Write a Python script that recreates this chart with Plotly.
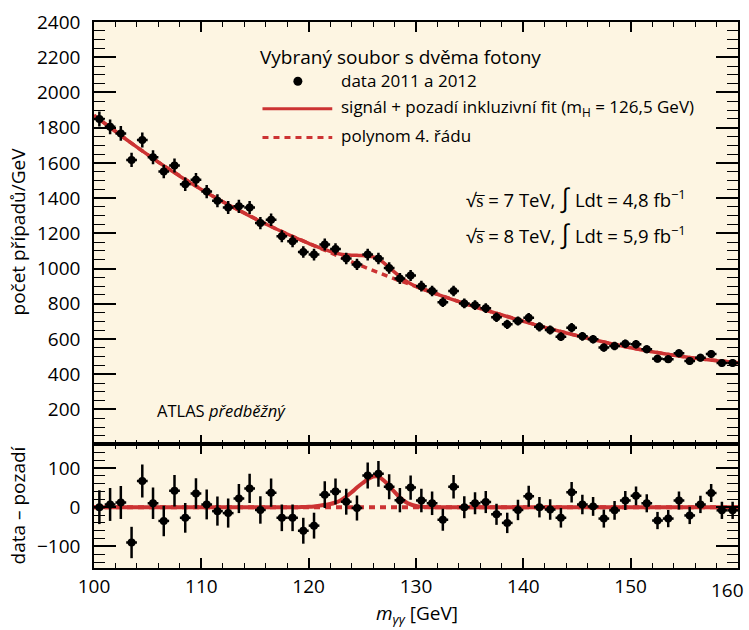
import plotly.graph_objects as go
from plotly.subplots import make_subplots

# ---------------- data ----------------
mass = [100.5, 101.5, 102.5, 103.5, 104.5, 105.5, 106.5, 107.5, 108.5, 109.5,
        110.5, 111.5, 112.5, 113.5, 114.5, 115.5, 116.5, 117.5, 118.5, 119.5,
        120.5, 121.5, 122.5, 123.5, 124.5, 125.5, 126.5, 127.5, 128.5, 129.5,
        130.5, 131.5, 132.5, 133.5, 134.5, 135.5, 136.5, 137.5, 138.5, 139.5,
        140.5, 141.5, 142.5, 143.5, 144.5, 145.5, 146.5, 147.5, 148.5, 149.5,
        150.5, 151.5, 152.5, 153.5, 154.5, 155.5, 156.5, 157.5, 158.5, 159.5]

counts = [1849, 1805, 1767, 1617, 1730, 1632, 1551, 1585, 1479, 1504,
          1437, 1385, 1347, 1353, 1347, 1258, 1277, 1183, 1155, 1094,
          1079, 1136, 1111, 1057, 1023, 1079, 1057, 1003, 943, 960,
          900, 872, 809, 872, 802, 792, 775, 724, 683, 702,
          720, 669, 651, 613, 664, 615, 598, 551, 560, 573,
          570, 542, 488, 485, 519, 475, 494, 515, 464, 464]

errors = [43, 42, 42, 40, 42, 40, 39, 40, 38, 39,
          38, 37, 37, 37, 37, 35, 36, 34, 34, 33,
          33, 34, 33, 33, 32, 33, 33, 32, 31, 31,
          30, 30, 28, 30, 28, 28, 28, 27, 26, 26,
          27, 26, 26, 25, 26, 25, 24, 23, 24, 24,
          24, 23, 22, 22, 23, 22, 22, 23, 22, 22]

residual = [0, 7, 12, -90, 67, 10, -35, 42, -27, 35,
            7, -10, -15, 22, 48, -7, 37, -27, -27, -60,
            -47, 32, 40, 14, -2, 81, 85, 52, 18, 50,
            17, 10, -32, 52, 0, 10, 13, -18, -40, -7,
            28, 0, -6, -27, 38, 7, 2, -29, -8, 17,
            29, 10, -34, -29, 17, -21, 7, 36, -8, -8]

bin_half_width = 0.5

fit_x = [100, 102, 104, 106, 108, 110, 112, 114, 116, 118,
         119, 119.5, 120, 120.5, 121, 121.5, 122, 122.5, 123, 123.5,
         124, 124.5, 125, 125.5, 126, 126.5, 127, 127.5, 128, 128.5,
         129, 129.5, 130, 130.5, 131, 131.5, 132,
         134, 136, 138, 140, 142, 144, 146, 148, 150, 152, 154, 156, 158, 160]

background = [1870, 1778, 1689, 1604, 1524, 1449, 1379, 1314, 1253, 1196,
              1169, 1155, 1142, 1128, 1115, 1102, 1089, 1076, 1063, 1051,
              1038, 1025, 1013, 1000, 988, 976, 964, 953, 941, 930,
              918, 907, 896, 885, 874, 864, 853,
              812, 773, 736, 700, 666, 634, 604, 576, 550, 527, 507, 490, 476, 465]

signal = [0, 0, 0, 0, 0, 0, 0, 0, 0, 0,
          0, 0.5, 1, 2, 4, 6, 8, 12, 18, 27,
          38, 50, 61, 71, 78, 78, 68, 54, 39, 25,
          14, 7, 3, 1, 0.5, 0, 0,
          0, 0, 0, 0, 0, 0, 0, 0, 0, 0, 0, 0, 0, 0]

x_tick_values = [100, 110, 120, 130, 140, 150]
x_last_tick_label = "160"

signal_plus_bkg = [b + s for b, s in zip(background, signal)]
zero_line = [0] * len(fit_x)

# ---------------- style ----------------
RED = "#cc3333"
CREAM = "#fdf5e2"
FONT = "Open Sans"

W, H = 749, 630
L, R, T, B = 94, 740, 20, 568   # plot area in pixels


def px(x):
    return (x - L) / (R - L)


def py(y):
    return (B - y) / (B - T)


fig = make_subplots(rows=2, cols=1, shared_xaxes=True, vertical_spacing=0,
                    row_heights=[424 / 548, 124 / 548])

# top panel
fig.add_trace(go.Scatter(x=fit_x, y=background, mode="lines",
                         line=dict(color=RED, width=3.5, dash="6px,5px"),
                         showlegend=False, hoverinfo="skip"), row=1, col=1)
fig.add_trace(go.Scatter(x=fit_x, y=signal_plus_bkg, mode="lines",
                         line=dict(color=RED, width=3.5, shape="spline"),
                         showlegend=False, hoverinfo="skip"), row=1, col=1)
fig.add_trace(go.Scatter(x=mass, y=counts, mode="markers",
                         marker=dict(color="black", size=8),
                         error_y=dict(type="data", array=errors, color="black",
                                      thickness=2.5, width=0),
                         error_x=dict(type="constant", value=bin_half_width,
                                      color="black", thickness=2.5, width=0),
                         showlegend=False), row=1, col=1)

# bottom panel
fig.add_trace(go.Scatter(x=fit_x, y=zero_line, mode="lines",
                         line=dict(color=RED, width=4, dash="6px,5px"),
                         showlegend=False, hoverinfo="skip"), row=2, col=1)
fig.add_trace(go.Scatter(x=fit_x, y=signal, mode="lines",
                         line=dict(color=RED, width=4, shape="spline"),
                         showlegend=False, hoverinfo="skip"), row=2, col=1)
fig.add_trace(go.Scatter(x=mass, y=residual, mode="markers",
                         marker=dict(color="black", size=8),
                         error_y=dict(type="data", array=errors, color="black",
                                      thickness=2.5, width=0),
                         error_x=dict(type="constant", value=bin_half_width,
                                      color="black", thickness=2.5, width=0),
                         showlegend=False), row=2, col=1)

axis_common = dict(showline=True, linecolor="black", linewidth=1.5,
                   mirror="allticks", ticks="inside", tickcolor="black",
                   tickwidth=1.5, showgrid=False, zeroline=False,
                   tickfont=dict(family=FONT, size=19, color="black"))

fig.update_xaxes(range=[100, 160], tickmode="array",
                 tickvals=x_tick_values + [160],
                 ticktext=[str(v) for v in x_tick_values] + [""],
                 ticklen=10,
                 minor=dict(tickmode="linear", dtick=2, tick0=100, ticklen=5,
                            ticks="inside", tickcolor="black", tickwidth=1.2,
                            showgrid=False),
                 **axis_common)
fig.update_xaxes(showticklabels=False, row=1, col=1)
fig.update_xaxes(showticklabels=True, row=2, col=1)

fig.update_yaxes(range=[1, 2400], dtick=200, tick0=0, ticklen=22,
                 ticklabelstandoff=8,
                 minor=dict(dtick=50, tick0=0, ticklen=11, ticks="inside",
                            tickcolor="black", tickwidth=1.2, showgrid=False),
                 row=1, col=1, **axis_common)
fig.update_yaxes(range=[-155, 160], dtick=100, tick0=0, ticklen=22,
                 ticklabelstandoff=8,
                 minor=dict(dtick=20, tick0=0, ticklen=11, ticks="inside",
                            tickcolor="black", tickwidth=1.2, showgrid=False),
                 row=2, col=1, **axis_common)

annotations = []


def ann(text, x, y, size, xanchor="left", angle=0, **kw):
    annotations.append(dict(text=text, x=px(x), y=py(y), xref="paper",
                            yref="paper", xanchor=xanchor, yanchor="middle",
                            showarrow=False, textangle=angle,
                            font=dict(family=FONT, size=size, color="black"),
                            **kw))


ann("Vybraný soubor s dvěma fotony", 259, 55, 19)
ann("data 2011 a 2012", 340, 79, 17)
ann("signál + pozadí inkluzivní fit (m<sub>H</sub> = 126,5 GeV)", 340, 106, 17)
ann("polynom 4. řádu", 340, 134, 17)
ann("√s\u0305 = 7 TeV, "
    "<span style='font-size:26px'>∫</span> Ldt = 4,8 fb<sup>−1</sup>",
    465, 196, 18.5)
ann("√s\u0305 = 8 TeV, "
    "<span style='font-size:26px'>∫</span> Ldt = 5,9 fb<sup>−1</sup>",
    465, 232, 18.5)
ann("ATLAS <i>předběžný</i>", 155, 410, 16.5)
ann("<i>m</i><sub><i>γγ</i></sub> [GeV]", 418, 614, 19, xanchor="center")
ann("počet případů/GeV", 18, 230, 19, xanchor="center", angle=-90)
ann("data – pozadí", 18, 505, 19, xanchor="center", angle=-90)
ann(x_last_tick_label, 748, 590, 19, xanchor="right")

shapes = [
    dict(type="circle", xref="paper", yref="paper",
         x0=px(294), x1=px(303), y0=py(84), y1=py(75),
         fillcolor="black", line=dict(color="black", width=0)),
    dict(type="line", xref="paper", yref="paper",
         x0=px(263), x1=px(333), y0=py(107), y1=py(107),
         line=dict(color=RED, width=3)),
    dict(type="line", xref="paper", yref="paper",
         x0=px(263), x1=px(333), y0=py(136), y1=py(136),
         line=dict(color=RED, width=3, dash="6px,5px")),
]

fig.update_layout(width=W, height=H,
                  margin=dict(l=L, r=W - R, t=T, b=H - B),
                  paper_bgcolor="white", plot_bgcolor=CREAM,
                  annotations=annotations, shapes=shapes,
                  showlegend=False,
                  font=dict(family=FONT, color="black"))

fig.write_html("out.html",
               config={"displayModeBar": False},
               post_script="document.body.style.margin='0px';"
                           "document.body.style.overflow='hidden';")
